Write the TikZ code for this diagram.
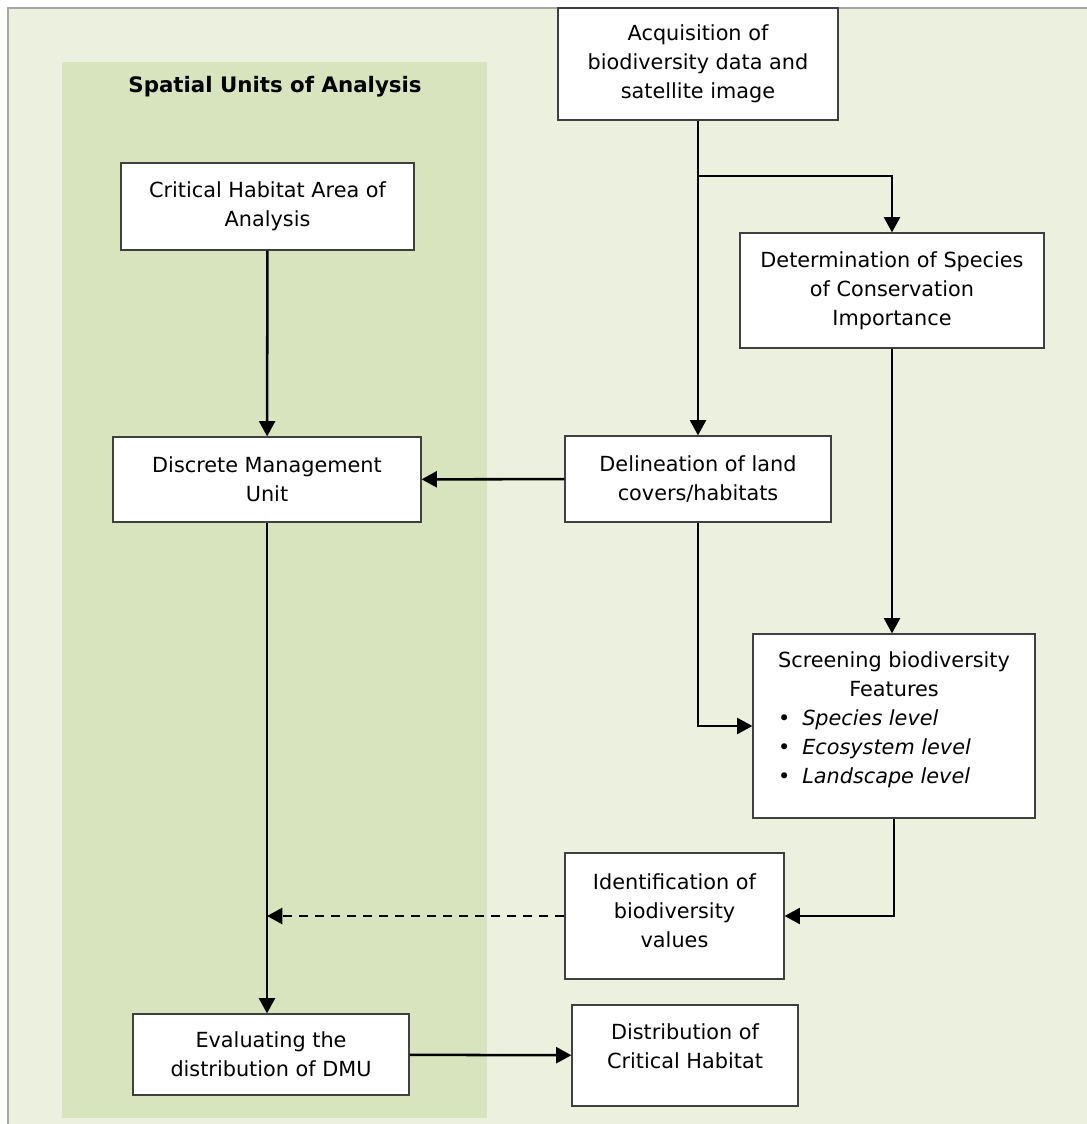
\documentclass[tikz,border=0pt]{standalone}
\usepackage{fontspec}
\setmainfont{DejaVu Sans}
\usetikzlibrary{arrows.meta,positioning}
\definecolor{HabitatPale}{HTML}{EBF1DE}
\definecolor{HabitatPanel}{HTML}{D7E4BD}
\definecolor{HabitatEdge}{HTML}{A6A6A6}
\definecolor{HabitatBox}{HTML}{404040}

\begin{document}
\begin{tikzpicture}[x=0.75pt,y=-0.75pt,
  box/.style={draw=HabitatBox,fill=white,line width=0.9pt,align=center,
    font=\fontsize{15.6}{21.75}\selectfont,inner sep=2pt},
  flow/.style={line width=1.9pt,-{Triangle[length=11.5pt,width=12pt]}}]
        \useasboundingbox (0,0) rectangle (1087,1124);
        \fill[HabitatPale] (8,8) rectangle (1087,1124);
        \draw[HabitatEdge,line width=1pt] (8,1124) -- (8,8) -- (1087,8);
        \fill[HabitatPanel] (62,62) rectangle (487,1118);
        \node[font=\bfseries\fontsize{16}{19}\selectfont] (panel) at (275,87)
          {Spatial Units of Analysis};

        % boxes
        \node[box,minimum width=210pt,minimum height=84pt] (acq) at (698,64)
          {Acquisition of\\biodiversity data and\\satellite image};
        \node[box,minimum width=219.75pt,minimum height=65.25pt] (cha) at (267.5,206.5)
          {Critical Habitat Area of\\Analysis};
        \node[box,minimum width=228pt,minimum height=86.25pt] (det) at (892,290.5)
          {Determination of Species\\of Conservation\\Importance};
        \node[box,minimum width=231pt,minimum height=63.75pt] (dmu) at (267,479.5)
          {Discrete Management\\Unit};
        \node[box,minimum width=199.5pt,minimum height=64.5pt] (del) at (698,479)
          {Delineation of land\\covers/habitats};
        \node[box,minimum width=211.5pt,minimum height=138pt,text depth=12pt] (scr) at (894,726)
          {Screening biodiversity\\Features\\
           \makebox[174pt][l]{\textbullet\hspace{9pt}\textit{Species level}}\\
           \makebox[174pt][l]{\textbullet\hspace{9pt}\textit{Ecosystem level}}\\
           \makebox[174pt][l]{\textbullet\hspace{9pt}\textit{Landscape level}}};
        \node[box,minimum width=164.25pt,minimum height=94.5pt,text depth=7.5pt] (idf) at (674.5,916)
          {Identification of\\biodiversity\\values};
        \node[box,minimum width=207pt,minimum height=60.75pt] (eva) at (271,1054.5)
          {Evaluating the\\distribution of DMU};
        \node[box,minimum width=169.5pt,minimum height=75.75pt,text depth=13.5pt] (dis) at (685,1055.5)
          {Distribution of\\Critical Habitat};

        % connectors
        \coordinate (split) at (698,176);
        \draw[flow] (acq) -- (del);
        \draw[flow] (split) -| (det);
        \draw[flow] (cha) -- (dmu);
        \draw[flow] (del) -- (dmu);
        \draw[flow] (dmu) -- (dmu |- eva.north);
        \draw[flow] (del) |- (scr);
        \draw[flow] (det) -- (det |- scr.north);
        \draw[flow] (scr) |- (idf);
        \draw[flow,dash pattern=on 7pt off 5pt] (idf) -- (idf -| dmu);
        \draw[flow] (eva) -- (dis);
\end{tikzpicture}
\end{document}
